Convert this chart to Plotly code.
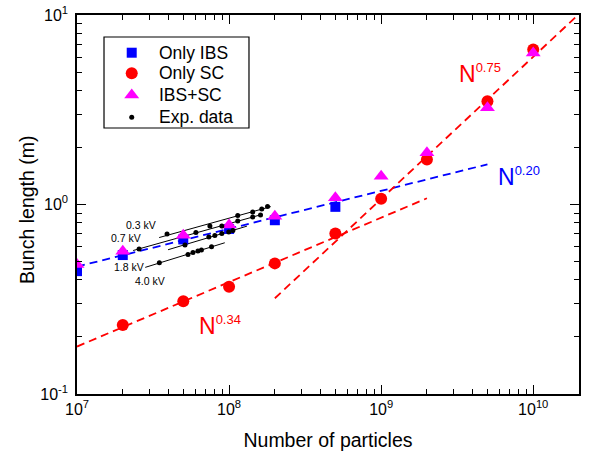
import numpy as np
import plotly.graph_objects as go

# ---- simulation results: bunch length (m) vs number of particles ----
n_ibs = [1e7, 2e7, 5e7, 1e8, 2e8, 5e8]
len_ibs = [0.445, 0.541, 0.654, 0.743, 0.826, 0.972]

n_sc = [2e7, 5e7, 1e8, 2e8, 5e8, 1e9, 2e9, 5e9, 1e10]
len_sc = [0.231, 0.309, 0.368, 0.489, 0.703, 1.072, 1.728, 3.51, 6.58]

n_both = [1e7, 2e7, 5e7, 1e8, 2e8, 5e8, 1e9, 2e9, 5e9, 1e10]
len_both = [0.482, 0.567, 0.689, 0.779, 0.868, 1.085, 1.41, 1.875, 3.24, 6.31]

# ---- measurements for four RF voltages ----
exp_labels = ["0.3 kV", "0.7 kV", "1.8 kV", "4.0 kV"]
exp_n = [
    [3.91e7, 7.48e7, 1.14e8, 1.43e8, 1.64e8, 1.79e8],
    [2.56e7, 6.05e7, 8.96e7, 1.14e8, 1.43e8, 1.61e8],
    [5.13e7, 7.36e7, 8.06e7, 8.96e7, 9.95e7, 1.06e8],
    [3.48e7, 5.37e7, 5.79e7, 6.24e7, 6.58e7, 7.67e7],
]
exp_len = [
    [0.699, 0.770, 0.875, 0.913, 0.947, 0.976],
    [0.582, 0.712, 0.770, 0.818, 0.859, 0.880],
    [0.611, 0.674, 0.686, 0.703, 0.716, 0.729],
    [0.492, 0.545, 0.558, 0.568, 0.575, 0.599],
]
# extent of the fitted line drawn through each measurement set
exp_fit_range = [(3.47e7, 1.88e8), (2.34e7, 1.66e8), (3.97e7, 1.31e8), (2.81e7, 9.37e7)]

# ---- power-law scalings: exponent, reference N, length at reference, N range ----
scalings = [
    dict(p=0.20, n0=1e7, l0=0.47, rng=(1e7, 5e9), color="#0000ff"),
    dict(p=0.34, n0=1e7, l0=0.178, rng=(1e7, 2e9), color="#ff0000"),
    dict(p=0.75, n0=2e8, l0=0.32, rng=(2e8, 2.2e10), color="#ff0000"),
]

FONT = "Liberation Sans, Arial, Helvetica, sans-serif"

# marker styles shared by data traces and the legend box
styles = {
    "Only IBS": dict(symbol="square", size=10, color="#0000ff"),
    "Only SC": dict(symbol="circle", size=12, color="#ff0000"),
    "IBS+SC": dict(symbol="triangle-up", size=13, color="#ff00ff"),
    "Exp. data": dict(symbol="circle", size=5, color="black"),
}

fig = go.Figure()

for s in scalings:
    n = np.array(s["rng"])
    fig.add_trace(go.Scatter(
        x=n, y=s["l0"] * (n / s["n0"]) ** s["p"], mode="lines",
        line=dict(color=s["color"], width=1.8, dash="8px,5px"),
        showlegend=False, hoverinfo="skip"))

# fitted lines through each measured set (log-log linear fit)
for xs, ys, (a, b) in zip(exp_n, exp_len, exp_fit_range):
    k, c = np.polyfit(np.log10(xs), np.log10(ys), 1)
    n = np.array([a, b])
    fig.add_trace(go.Scatter(
        x=n, y=10 ** (c + k * np.log10(n)), mode="lines",
        line=dict(color="black", width=1), showlegend=False, hoverinfo="skip"))

fig.add_trace(go.Scatter(x=n_ibs, y=len_ibs, mode="markers", name="Only IBS",
                         marker=styles["Only IBS"], showlegend=False))
fig.add_trace(go.Scatter(x=n_sc, y=len_sc, mode="markers", name="Only SC",
                         marker=styles["Only SC"], showlegend=False))
fig.add_trace(go.Scatter(x=n_both, y=len_both, mode="markers", name="IBS+SC",
                         marker=styles["IBS+SC"], showlegend=False))
fig.add_trace(go.Scatter(x=sum(exp_n, []), y=sum(exp_len, []), mode="markers",
                         name="Exp. data", marker=styles["Exp. data"], showlegend=False))

# ---- legend box drawn in plot-fraction coordinates ----
leg_names = list(styles)
leg_rows = [0.9005, 0.8462, 0.789, 0.730]
leg_sym_x, leg_txt_x = 0.109, 0.1588
fig.add_shape(type="rect", xref="paper", yref="paper", x0=0.0538, x1=0.3426,
              y0=0.7018, y1=0.942, line=dict(color="black", width=1.2),
              fillcolor="white", layer="below")
for name, ry in zip(leg_names, leg_rows):
    fig.add_trace(go.Scatter(x=[leg_sym_x], y=[ry], xaxis="x2", yaxis="y2",
                             mode="markers", marker=styles[name],
                             showlegend=False, hoverinfo="skip"))
    fig.add_annotation(xref="paper", yref="paper", x=leg_txt_x, y=ry, text=name,
                       xanchor="left", yanchor="middle", showarrow=False,
                       font=dict(size=17.5, color="black", family=FONT))

# voltage labels
label_pos = [(7.419, -0.109), (7.321, -0.179), (7.339, -0.328), (7.481, -0.405)]
for text, (lx, ly) in zip(exp_labels, label_pos):
    fig.add_annotation(x=lx, y=ly, text=text, showarrow=False,
                       font=dict(size=10.5, color="black", family=FONT))

# scaling-law labels
scaling_labels = [("0.75", "#ff0000", 9.497, 0.691),
                  ("0.20", "#0000ff", 9.752, 0.148),
                  ("0.34", "#ff0000", 7.787, -0.6385)]
for p, col, lx, ly in scaling_labels:
    fig.add_annotation(
        x=lx, y=ly, xanchor="left", yanchor="middle", showarrow=False,
        text=f"N<sup><span style='font-size:13px'>{p}</span></sup>",
        font=dict(size=23, color=col, family=FONT))

# y-axis title
fig.add_annotation(xref="paper", yref="paper", x=-0.0996, y=0.4855,
                   text="Bunch length (m)", textangle=-90, showarrow=False,
                   xanchor="center", yanchor="middle",
                   font=dict(size=19.5, color="black", family=FONT))

x_major = [1e7, 1e8, 1e9, 1e10]
x_text = ["10<sup>7</sup>", "10<sup>8</sup>", "10<sup>9</sup>", "10<sup>10</sup>"]
y_major = [0.1, 1, 10]
y_text = ["10<sup>-1</sup>", "10<sup>0</sup>", "10<sup>1</sup>"]
x_minor = [m * 10 ** e for e in range(7, 11) for m in range(2, 10) if m * 10 ** e <= 2e10]
y_minor = [m * 10 ** e for e in range(-1, 1) for m in range(2, 10)]

axis_common = dict(
    type="log", showgrid=False, zeroline=False, showline=True, linecolor="black",
    linewidth=1.5, mirror="allticks", ticks="inside", ticklen=9, tickwidth=1.2,
    tickcolor="black", tickfont=dict(size=16, color="black", family=FONT),
)

fig.update_xaxes(
    **axis_common, range=[7, np.log10(2e10)], tickvals=x_major, ticktext=x_text,
    minor=dict(tickvals=x_minor, ticks="inside", ticklen=5, tickwidth=1, tickcolor="black"),
    title=dict(text="Number of particles", font=dict(size=19.5, color="black", family=FONT),
               standoff=16))
fig.update_yaxes(
    **axis_common, range=[-1, 1], tickvals=y_major, ticktext=y_text, ticklabelstandoff=4,
    minor=dict(tickvals=y_minor, ticks="inside", ticklen=5, tickwidth=1, tickcolor="black"))

fig.update_layout(
    width=592, height=453,
    margin=dict(l=77, r=13, t=15, b=59, autoexpand=False),
    paper_bgcolor="white", plot_bgcolor="white",
    font=dict(family=FONT, color="black"),
    xaxis2=dict(overlaying="x", range=[0, 1], visible=False, fixedrange=True),
    yaxis2=dict(overlaying="y", range=[0, 1], visible=False, fixedrange=True),
    showlegend=False,
)

fig.write_html("out.html")
